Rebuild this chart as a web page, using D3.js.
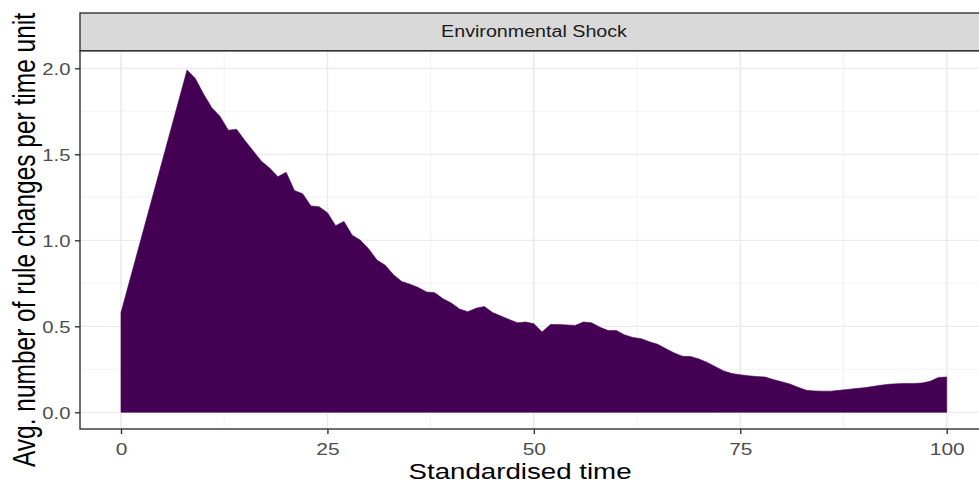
<!DOCTYPE html>
<html>
<head>
<meta charset="utf-8">
<script src="https://cdn.jsdelivr.net/npm/d3@7"></script>
<style>
html,body{margin:0;padding:0;background:#fff;}
svg{display:block;}
text{font-family:"Liberation Sans",Arial,Helvetica,sans-serif;}
</style>
</head>
<body>
<svg id="chart" width="979" height="486"></svg>
<script>
// ---- data ----
const panelTitle = "Environmental Shock";
const xTitle = "Standardised time";
const yTitle = "Avg. number of rule changes per time unit";
const times = [0,8,9,10,11,12,13,14,15,16,17,18,19,20,21,22,23,24,25,26,27,28,29,30,31,32,33,34,35,36,37,38,39,40,41,42,43,44,45,46,47,48,49,50,51,52,53,54,55,56,57,58,59,60,61,62,63,64,65,66,67,68,69,70,71,72,73,74,75,76,77,78,79,80,81,82,83,84,85,86,87,88,89,90,91,92,93,94,95,96,97,98,99,100];
const values = [0.58,1.99,1.94,1.85,1.77,1.72,1.64,1.645,1.58,1.52,1.46,1.42,1.37,1.395,1.29,1.27,1.20,1.195,1.16,1.085,1.11,1.03,1.00,0.95,0.885,0.855,0.80,0.76,0.745,0.725,0.70,0.695,0.66,0.635,0.60,0.585,0.605,0.615,0.58,0.56,0.54,0.52,0.525,0.515,0.467,0.51,0.51,0.508,0.505,0.525,0.52,0.495,0.475,0.475,0.45,0.435,0.428,0.41,0.395,0.37,0.345,0.326,0.324,0.31,0.29,0.265,0.24,0.225,0.218,0.212,0.208,0.205,0.19,0.178,0.165,0.145,0.128,0.124,0.123,0.123,0.128,0.133,0.138,0.143,0.15,0.157,0.163,0.166,0.168,0.168,0.17,0.18,0.203,0.205];
const xTicks = [0,25,50,75,100];
const xMinor = [12.5,37.5,62.5,87.5];
const yTicks = [0,0.5,1,1.5,2];
const yTickLabels = ["0.0","0.5","1.0","1.5","2.0"];
const yMinor = [0.25,0.75,1.25,1.75];

// ---- layout ----
const SX = 1.23; // horizontal stretch of the reference
const panel = {left:80, right:988, top:50.7, bottom:429};
const strip = {top:13, bottom:50.7};
const x = d3.scaleLinear().domain([0,100]).range([121,946.7]);
const y = d3.scaleLinear().domain([0,2]).range([412.3,68.3]);

const svg = d3.select("#chart");
const data = times.map((t,i)=>({t, v:values[i]}));

svg.append("rect").attr("x",panel.left).attr("y",panel.top)
  .attr("width",panel.right-panel.left).attr("height",panel.bottom-panel.top)
  .attr("fill","#fff");

const grid = svg.append("g");
grid.selectAll(".ymin").data(yMinor).enter().append("line")
  .attr("x1",panel.left).attr("x2",panel.right)
  .attr("y1",d=>y(d)).attr("y2",d=>y(d))
  .attr("stroke","#efefef").attr("stroke-width",0.7);
grid.selectAll(".xmin").data(xMinor).enter().append("line")
  .attr("y1",panel.top).attr("y2",panel.bottom)
  .attr("x1",d=>x(d)).attr("x2",d=>x(d))
  .attr("stroke","#efefef").attr("stroke-width",0.9);
grid.selectAll(".ymaj").data(yTicks).enter().append("line")
  .attr("x1",panel.left).attr("x2",panel.right)
  .attr("y1",d=>y(d)).attr("y2",d=>y(d))
  .attr("stroke","#ebebeb").attr("stroke-width",1.3);
grid.selectAll(".xmaj").data(xTicks).enter().append("line")
  .attr("y1",panel.top).attr("y2",panel.bottom)
  .attr("x1",d=>x(d)).attr("x2",d=>x(d))
  .attr("stroke","#ebebeb").attr("stroke-width",1.6);

const area = d3.area().x(d=>x(d.t)).y0(y(0)).y1(d=>y(d.v)).curve(d3.curveLinear);
svg.append("path").datum(data).attr("d",area)
  .attr("fill","#440154").attr("stroke","#440154").attr("stroke-width",0.6);

svg.append("rect").attr("x",panel.left).attr("y",panel.top)
  .attr("width",panel.right-panel.left).attr("height",panel.bottom-panel.top)
  .attr("fill","none").attr("stroke","#333").attr("stroke-width",1.4);

svg.append("rect").attr("x",panel.left).attr("y",strip.top)
  .attr("width",panel.right-panel.left).attr("height",strip.bottom-strip.top)
  .attr("fill","#d9d9d9").attr("stroke","#333").attr("stroke-width",1.4);
svg.append("g").attr("transform",`translate(${(panel.left+panel.right)/2},${(strip.top+strip.bottom)/2}) scale(${SX},1)`)
  .append("text").attr("text-anchor","middle").attr("dy","0.35em")
  .attr("font-size",16).attr("fill","#1a1a1a").text(panelTitle);

const xAxis = d3.axisBottom(x).tickValues(xTicks).tickSize(5).tickFormat(d3.format("d"));
const gx = svg.append("g").attr("transform",`translate(0,${panel.bottom})`).call(xAxis);
gx.select(".domain").remove();
gx.selectAll(".tick line").attr("stroke","#333").attr("stroke-width",1.4);
gx.selectAll(".tick text").remove();
gx.selectAll(".tick").append("g").attr("transform",`translate(0,20.5) scale(${SX},1)`)
  .append("text").attr("text-anchor","middle").attr("dy","0.35em")
  .attr("font-size",17).attr("fill","#4d4d4d").text(d=>d3.format("d")(d));

const yAxis = d3.axisLeft(y).tickValues(yTicks).tickSize(5);
const gy = svg.append("g").attr("transform",`translate(${panel.left},0)`).call(yAxis);
gy.select(".domain").remove();
gy.selectAll(".tick line").attr("stroke","#333").attr("stroke-width",1.4);
gy.selectAll(".tick text").remove();
gy.selectAll(".tick").append("g").attr("transform",`translate(-9.5,0) scale(${SX},1)`)
  .append("text").attr("text-anchor","end").attr("dy","0.35em")
  .attr("font-size",16.5).attr("fill","#4d4d4d").text((d,i)=>yTickLabels[i]);

svg.append("g").attr("transform",`translate(${520},${471}) scale(${SX},1)`)
  .append("text").attr("text-anchor","middle").attr("dy","0.35em")
  .attr("font-size",22.5).attr("fill","#000").text(xTitle);
svg.append("g").attr("transform",`translate(${24.5},${240}) scale(${SX+0.05},1) rotate(-90)`)
  .append("text").attr("text-anchor","middle").attr("dy","0.35em")
  .attr("font-size",24.5).attr("fill","#000").text(yTitle);
</script>
</body>
</html>
